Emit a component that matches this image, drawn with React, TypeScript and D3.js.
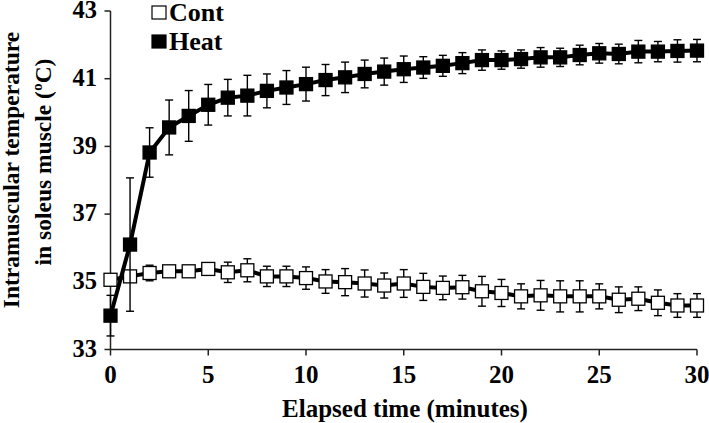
import React from "react";
import * as d3 from "d3";

const minutes = [0, 1, 2, 3, 4, 5, 6, 7, 8, 9, 10, 11, 12, 13, 14, 15, 16, 17, 18, 19, 20, 21, 22, 23, 24, 25, 26, 27, 28, 29, 30];

const heatMean = [34.0, 36.1, 38.82, 39.56, 39.9, 40.23, 40.44, 40.5, 40.64, 40.74, 40.84, 40.96, 41.04, 41.14, 41.21, 41.28, 41.33, 41.38, 41.46, 41.55, 41.55, 41.58, 41.63, 41.63, 41.7, 41.75, 41.73, 41.8, 41.8, 41.82, 41.83];
const heatSD = [0.6, 1.97, 0.73, 0.81, 0.75, 0.6, 0.54, 0.6, 0.5, 0.5, 0.5, 0.46, 0.45, 0.41, 0.4, 0.39, 0.32, 0.31, 0.31, 0.3, 0.27, 0.27, 0.29, 0.27, 0.29, 0.29, 0.29, 0.33, 0.3, 0.33, 0.33];

const contMean = [35.06, 35.16, 35.26, 35.31, 35.31, 35.38, 35.28, 35.34, 35.16, 35.16, 35.11, 35.01, 34.99, 34.95, 34.89, 34.95, 34.85, 34.82, 34.84, 34.72, 34.67, 34.57, 34.6, 34.57, 34.57, 34.57, 34.47, 34.5, 34.38, 34.3, 34.3];
const contSD = [0.15, 0.15, 0.23, 0.15, 0.15, 0.15, 0.3, 0.34, 0.3, 0.3, 0.33, 0.35, 0.4, 0.4, 0.37, 0.41, 0.4, 0.35, 0.35, 0.44, 0.4, 0.37, 0.44, 0.46, 0.46, 0.37, 0.38, 0.35, 0.38, 0.35, 0.35];

const yTicks = [33, 35, 37, 39, 41, 43];
const xTicks = [0, 5, 10, 15, 20, 25, 30];

const W = 709;
const H = 423;
const font = "'Liberation Serif', 'Times New Roman', serif";

const x = d3.scaleLinear().domain([0, 30]).range([110.5, 697]);
const y = d3.scaleLinear().domain([33, 43]).range([349.5, 11]);

type Series = { name: string; mean: number[]; sd: number[]; fill: string };

const series: Series[] = [
  { name: "Cont", mean: contMean, sd: contSD, fill: "#fff" },
  { name: "Heat", mean: heatMean, sd: heatSD, fill: "#000" },
];

const SeriesMarks = ({ s }: { s: Series }) => {
  const line = d3
    .line<number>()
    .x((_, i) => x(minutes[i]))
    .y((d) => y(d));
  const box = 13;
  return (
    <g>
      {s.mean.map((m, i) => {
        const cx = x(minutes[i]);
        const top = y(m + s.sd[i]);
        const bot = y(m - s.sd[i]);
        return (
          <g key={i} stroke="#000" strokeWidth={1.4}>
            <line x1={cx} x2={cx} y1={top} y2={bot} />
            <line x1={cx - 4} x2={cx + 4} y1={top} y2={top} />
            <line x1={cx - 4} x2={cx + 4} y1={bot} y2={bot} />
          </g>
        );
      })}
      <path d={line(s.mean) || ""} fill="none" stroke="#000" strokeWidth={4} />
      {s.mean.map((m, i) => (
        <rect
          key={i}
          x={x(minutes[i]) - box / 2}
          y={y(m) - box / 2}
          width={box}
          height={box}
          fill={s.fill}
          stroke="#000"
          strokeWidth={1.3}
        />
      ))}
    </g>
  );
};

export default function App() {
  return (
    <svg
      width={W}
      height={H}
      style={{ position: "absolute", left: 0, top: 0, background: "#fff" }}
      fontFamily={font}
      fontWeight="bold"
    >
      {/* axes */}
      <g stroke="#222" strokeWidth={1.5}>
        <line x1={x(0)} x2={x(0)} y1={y(43)} y2={y(33)} />
        <line x1={x(0)} x2={x(30)} y1={y(33)} y2={y(33)} />
        {yTicks.map((t) => (
          <line key={t} x1={x(0) - 6} x2={x(0)} y1={y(t)} y2={y(t)} />
        ))}
        {xTicks.map((t) => (
          <line key={t} x1={x(t)} x2={x(t)} y1={y(33)} y2={y(33) + 6} />
        ))}
      </g>
      {yTicks.map((t) => (
        <text key={t} x={97} y={y(t)} dy="0.3em" textAnchor="end" fontSize={24.5}>
          {t}
        </text>
      ))}
      {xTicks.map((t) => (
        <text key={t} x={x(t)} y={383} textAnchor="middle" fontSize={25}>
          {t}
        </text>
      ))}
      <text x={405} y={417} textAnchor="middle" fontSize={25}>
        Elapsed time (minutes)
      </text>
      <text transform="translate(19,170) rotate(-90)" textAnchor="middle" fontSize={23.5}>
        Intramuscular temperature
      </text>
      <text transform="translate(51,162) rotate(-90)" textAnchor="middle" fontSize={23.5}>
        in soleus muscle (ºC)
      </text>

      {series.map((s) => (
        <SeriesMarks key={s.name} s={s} />
      ))}

      {/* legend */}
      {series.map((s, i) => (
        <g key={s.name} transform={`translate(152,${6 + i * 29})`}>
          <rect x={0} y={0} width={14} height={13} fill={s.fill} stroke="#000" strokeWidth={1.2} />
          <text x={17} y={14.5} fontSize={26}>
            {s.name}
          </text>
        </g>
      ))}
    </svg>
  );
}
